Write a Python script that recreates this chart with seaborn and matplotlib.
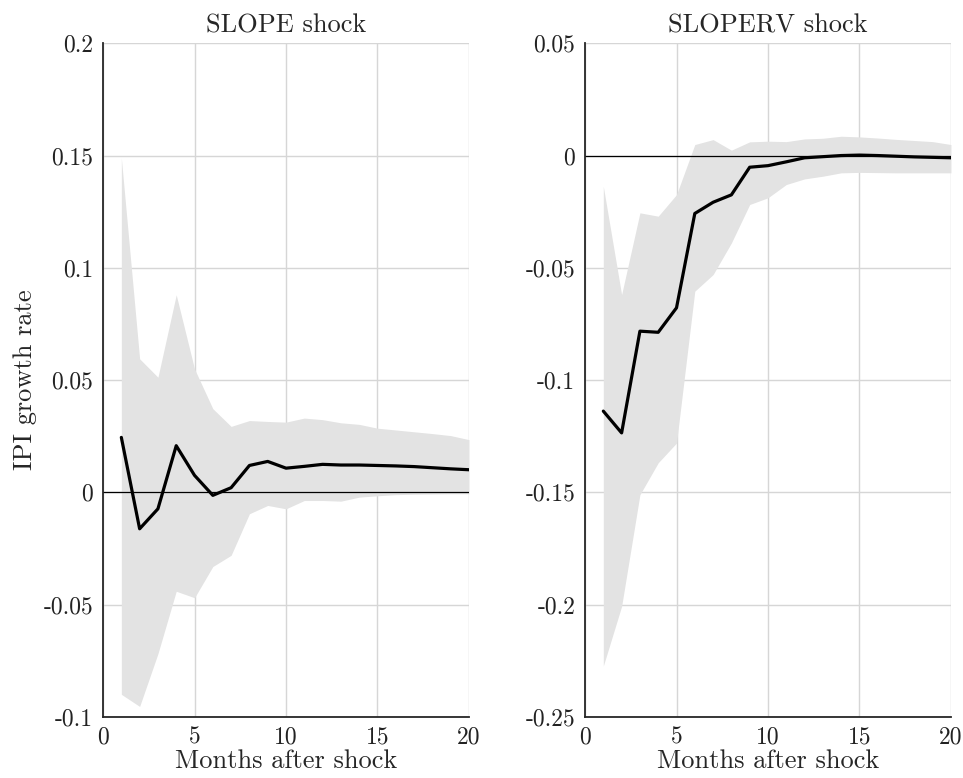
import numpy as np
import pandas as pd
import matplotlib
matplotlib.use('Agg')
import matplotlib.pyplot as plt
import seaborn as sns
from matplotlib.ticker import FuncFormatter

## Datos
meses = list(range(1, 21))

slope_irf = [0.0245, -0.0162, -0.0073, 0.0208, 0.0076, -0.0013, 0.0021, 0.0120, 0.0138, 0.0108,
             0.0116, 0.0125, 0.0122, 0.0122, 0.0120, 0.0118, 0.0115, 0.0110, 0.0105, 0.0101]
slope_sup = [0.149, 0.0595, 0.0513, 0.088, 0.055, 0.0373, 0.0294, 0.032, 0.0316, 0.0313,
             0.0331, 0.0324, 0.031, 0.0303, 0.0286, 0.0278, 0.027, 0.0262, 0.0253, 0.0235]
slope_inf = [-0.0899, -0.0953, -0.0718, -0.044, -0.0469, -0.033, -0.028, -0.0095, -0.0058, -0.0073,
             -0.0036, -0.0036, -0.0039, -0.0021, -0.0015, -0.0010, -0.0008, -0.0007, -0.0006, -0.0006]

sloperv_irf = [-0.1138, -0.1235, -0.0782, -0.0787, -0.0678, -0.0258, -0.0208, -0.0175, -0.0052, -0.0045,
               -0.0028, -0.0010, -0.0005, 0.0, 0.0002, 0.0, -0.0003, -0.0006, -0.0008, -0.0010]
sloperv_sup = [-0.0137, -0.0619, -0.0255, -0.027, -0.0174, 0.0049, 0.0071, 0.0024, 0.0061, 0.0064,
               0.0062, 0.0074, 0.0077, 0.0086, 0.0083, 0.0078, 0.0072, 0.0067, 0.0062, 0.0049]
sloperv_inf = [-0.2273, -0.2007, -0.151, -0.1368, -0.128, -0.0604, -0.053, -0.0389, -0.0218, -0.0188,
               -0.0129, -0.0104, -0.0092, -0.0077, -0.0075, -0.0076, -0.0077, -0.0077, -0.0077, -0.0077]

titulos = ['SLOPE shock', 'SLOPERV shock']
limites_y = [(-0.1, 0.2), (-0.25, 0.05)]
ticks_y = [[-0.1, -0.05, 0, 0.05, 0.1, 0.15, 0.2], [-0.25, -0.2, -0.15, -0.1, -0.05, 0, 0.05]]

sns.set_style('white')
plt.rcParams['font.family'] = ['cmr10']
plt.rcParams['axes.unicode_minus'] = False
plt.rcParams['mathtext.fontset'] = 'cm'

fig = plt.figure(figsize=(9.63, 7.78), dpi=100)
ax1 = fig.add_axes([0.107, 0.0784, 0.380, 0.866])
ax2 = fig.add_axes([0.6075, 0.0784, 0.380, 0.866])

datos = [(slope_irf, slope_sup, slope_inf), (sloperv_irf, sloperv_sup, sloperv_inf)]

for i, ax in enumerate([ax1, ax2]):
    irf, sup, inf = datos[i]
    df = pd.DataFrame({'mes': meses, 'irf': irf, 'sup': sup, 'inf': inf})
    # banda de confianza
    ax.fill_between(df['mes'], df['inf'], df['sup'], color='#e3e3e3', linewidth=0, zorder=1)
    ax.axhline(0, color='black', linewidth=0.9, zorder=2)
    sns.lineplot(x='mes', y='irf', data=df, color='black', linewidth=2.3, ax=ax, zorder=3)
    ax.set_xlim(0, 20)
    ax.set_ylim(*limites_y[i])
    ax.set_xticks([0, 5, 10, 15, 20])
    ax.set_yticks(ticks_y[i])
    ax.yaxis.set_major_formatter(FuncFormatter(lambda v, p: '%g' % round(v, 4)))
    ax.grid(True, color='#d6d6d6', linewidth=1.0, zorder=0)
    ax.set_axisbelow(True)
    for s in ['top', 'right']:
        ax.spines[s].set_visible(False)
    for s in ['left', 'bottom']:
        ax.spines[s].set_color('#262626')
        ax.spines[s].set_linewidth(1.3)
    ax.tick_params(direction='in', length=4, width=1.1, labelsize=17, colors='#222222', pad=7)
    ax.set_title(titulos[i], fontsize=19, pad=8)
    ax.set_xlabel('Months after shock', fontsize=19, labelpad=0)
    ax.set_ylabel('')

ax1.set_ylabel('IPI growth rate', fontsize=19, labelpad=5)

plt.savefig('out.png', dpi=100)
